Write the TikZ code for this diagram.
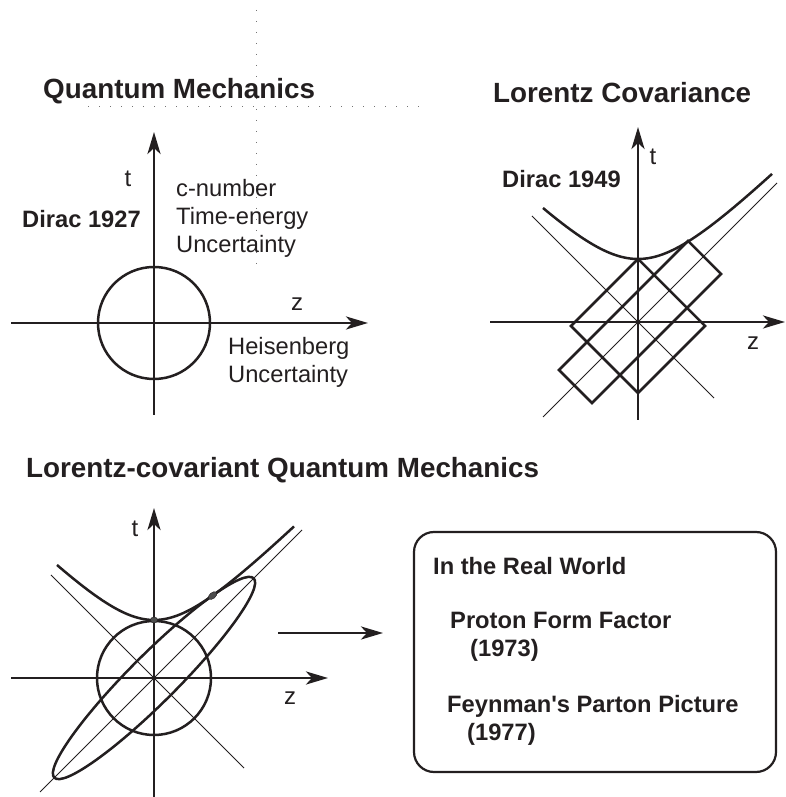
\documentclass[tikz,border=0pt]{standalone}
\usepackage{fontspec}
\setmainfont{Liberation Sans}
\usetikzlibrary{arrows.meta}
\definecolor{ink}{HTML}{231F20}
\tikzset{
  axis/.style={ink,line width=2.9pt,-{Stealth[length=22pt,width=13pt,inset=6pt]}},
  curve/.style={ink,line width=2.5pt},
  cone/.style={ink,line width=0.9pt},
  grid dots/.style={black!55,line width=0.8pt,dash pattern=on 1pt off 10pt},
  title/.style={ink,font=\bfseries\fontsize{27.8}{33}\selectfont,anchor=base west,inner sep=0pt},
  boldlab/.style={ink,font=\bfseries\fontsize{23.7}{28}\selectfont,anchor=base west,inner sep=0pt},
  plainlab/.style={ink,font=\fontsize{23.7}{28}\selectfont,anchor=base west,inner sep=0pt},
  axlab/.style={ink,font=\fontsize{24}{28}\selectfont,anchor=base,inner sep=0pt},
  dotmark/.style={fill=black!70,draw=ink,line width=0.4pt}
}
\begin{document}
\begin{tikzpicture}[x=1pt,y=1pt]
  \useasboundingbox (0,0) rectangle (785,797);

  % faint grid remnants
  \coordinate (gv-a) at (256,787);
  \coordinate (gv-b) at (256,527);
  \coordinate (gh-a) at (88,691);
  \coordinate (gh-b) at (422,691);
  \draw[grid dots] (gv-a) -- (gv-b);
  \draw[grid dots] (gh-a) -- (gh-b);

  % titles
  \node[title] (title-qm) at (43,698) {Quantum Mechanics};
  \node[title] (title-lc) at (493,694) {Lorentz Covariance};
  \node[title] (title-lqm) at (26,319) {Lorentz-covariant Quantum Mechanics};

  % --- Quantum Mechanics ---
  \begin{scope}[shift={(154,474)}]
    \coordinate (qm-o) at (0,0);
    \coordinate (qm-tb) at (0,-92);
    \coordinate (qm-tt) at (0,191);
    \coordinate (qm-zl) at (-143,0);
    \coordinate (qm-zr) at (214,0);
    \draw[axis] (qm-zl) -- (qm-zr);
    \draw[axis] (qm-tb) -- (qm-tt);
    \draw[curve] (qm-o) circle (56);
  \end{scope}
  \node[axlab] (qm-t) at (128,610) {t};
  \node[axlab] (qm-z) at (297,486) {z};
  \node[boldlab] (dirac27) at (22,569) {Dirac 1927};
  \foreach \y/\lab [count=\i] in {600/c-number, 572/Time-energy, 544/Uncertainty}
    \node[plainlab] (cnum-\i) at (176,\y) {\lab};
  \foreach \y/\lab [count=\i] in {442/Heisenberg, 414/Uncertainty}
    \node[plainlab] (heis-\i) at (228,\y) {\lab};

  % --- Lorentz Covariance ---
  \begin{scope}[shift={(638,475)}]
    \coordinate (lc-o) at (0,0);
    \coordinate (lc-tb) at (0,-98);
    \coordinate (lc-tt) at (0,195);
    \coordinate (lc-zl) at (-148,0);
    \coordinate (lc-zr) at (147,0);
    \coordinate (lc-c1) at (-106,106);
    \coordinate (lc-c2) at (76,-76);
    \coordinate (lc-c3) at (-95,-95);
    \coordinate (lc-c4) at (139,139);
    \draw[cone] (lc-c1) -- (lc-c2);
    \draw[cone] (lc-c3) -- (lc-c4);
    \draw[curve] plot[domain=-95:134,samples=80] (\x,{10*sqrt((\x/10)^2+6.3^2)});
    \draw[curve,line join=miter] (0,63) -- (67,-4) -- (0,-71) -- (-67,-4) -- cycle;
    \draw[curve,line join=miter] (50,81) -- (83,48) -- (-46,-81) -- (-79,-48) -- cycle;
    \draw[axis] (lc-zl) -- (lc-zr);
    \draw[axis] (lc-tb) -- (lc-tt);
  \end{scope}
  \node[axlab] (lc-t) at (653,632) {t};
  \node[axlab] (lc-z) at (753,447) {z};
  \node[boldlab] (dirac49) at (502,609) {Dirac 1949};

  % --- Lorentz-covariant Quantum Mechanics ---
  \begin{scope}[shift={(154,119)}]
    \coordinate (lq-o) at (0,0);
    \coordinate (lq-tb) at (0,-119);
    \coordinate (lq-tt) at (0,170);
    \coordinate (lq-zl) at (-143,0);
    \coordinate (lq-zr) at (174,0);
    \coordinate (lq-c1) at (-103,103);
    \coordinate (lq-c2) at (90,-90);
    \coordinate (lq-c3) at (-114,-114);
    \coordinate (lq-c4) at (148,148);
    \draw[cone] (lq-c1) -- (lq-c2);
    \draw[cone] (lq-c3) -- (lq-c4);
    \draw[curve] (lq-o) circle (57);
    \draw[curve] plot[domain=-97:140,samples=80] (\x,{10*sqrt((\x/10)^2+5.8^2)});
    \draw[curve,rotate=45] (lq-o) ellipse [x radius=141,y radius=23.9];
    \draw[axis] (lq-zl) -- (lq-zr);
    \draw[axis] (lq-tb) -- (lq-tt);
    \fill[dotmark] (0,58) ellipse [x radius=3.5,y radius=3];
    \fill[dotmark,rotate around={40:(58.6,82.4)}] (58.6,82.4) ellipse [x radius=5,y radius=3];
  \end{scope}
  \node[axlab] (lq-t) at (135,260) {t};
  \node[axlab] (lq-z) at (290,92) {z};

  % real world box
  \node[draw=ink,line width=2.2pt,rounded corners=20pt,minimum width=362pt,minimum height=240pt,inner sep=0pt]
    (world) at (595,145) {};
  \coordinate (arr-a) at (278,164);
  \coordinate (arr-b) at (383,164);
  \draw[axis] (arr-a) -- (arr-b);
  \node[boldlab] (world-1) at (433,222) {In the Real World};
  \node[boldlab] (world-2) at (450,168) {Proton Form Factor};
  \node[boldlab] (world-3) at (470,140) {(1973)};
  \node[boldlab] (world-4) at (447,84) {Feynman\textquotesingle s Parton Picture};
  \node[boldlab] (world-5) at (467,56) {(1977)};
\end{tikzpicture}
\end{document}
